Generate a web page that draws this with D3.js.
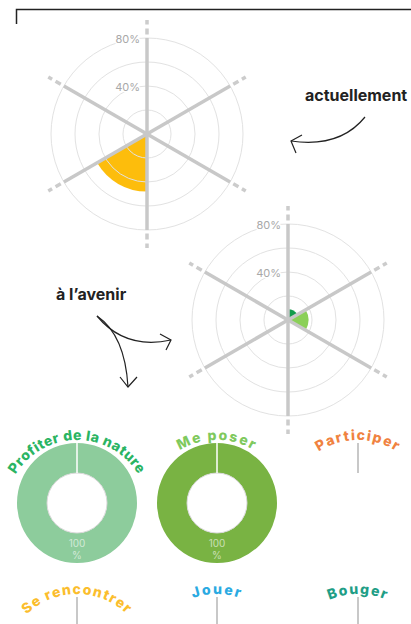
<!DOCTYPE html>
<html>
<head>
<meta charset="utf-8">
<script src="https://cdn.jsdelivr.net/npm/d3@7"></script>
<style>
  body { margin: 0; background: #fff; }
  svg { display: block; font-family: Inter, "Open Sans", sans-serif; }
</style>
</head>
<body>
<svg id="chart" width="411" height="624"></svg>
<script>
// categories, one per radar sector (clockwise from top)
var categories = ["Profiter de la nature", "Me poser", "Participer", "Se rencontrer", "Jouer", "Bouger"]
var catColors = ["#129c4c", "#8bd058", "#f2823a", "#fdbd0c", "#2aa9e0", "#1b9e88"]
var labelColors = ["#2ab463", "#7fc95d", "#f0823f", "#fbbd2c", "#2aaae2", "#1f9e86"]
var donutColors = ["#8dcc9c", "#79b343", "#f6b48a", "#fdd888", "#8fd2ee", "#8ccdc2"]

// percent values
var actuellement = [0, 0, 0, 48, 0, 0]
var avenir = [9, 17, 0, 0, 0, 0]
var donutValues = [100, 100, 0, 0, 0, 0]

var rings = [20, 40, 60, 80]
var tickLabels = [40, 80]

var svg = d3.select("#chart")

// frame at top
svg.append("path")
  .attr("d", "M16.5,24V9.5H411")
  .attr("fill", "none")
  .attr("stroke", "#222")
  .attr("stroke-width", 1.5)

var r = d3.scaleLinear().domain([0, 80]).range([0, 96])
var angle = d3.scaleLinear().domain([0, categories.length]).range([0, 2 * Math.PI])

function radar(cx, cy, values) {
  var g = svg.append("g").attr("transform", "translate(" + cx + "," + cy + ")")

  var wedge = d3.arc()
    .innerRadius(0)
    .outerRadius(function(d) { return r(d.v) })
    .startAngle(function(d) { return angle(d.i) })
    .endAngle(function(d) { return angle(d.i + 1) })

  g.selectAll("path.wedge")
    .data(values.map(function(v, i) { return {v: v, i: i} }).filter(function(d) { return d.v > 0 }))
    .enter()
    .append("path")
    .attr("class", "wedge")
    .attr("d", wedge)
    .attr("fill", function(d) { return catColors[d.i] })

  g.selectAll("circle.ring")
    .data(rings)
    .enter()
    .append("circle")
    .attr("class", "ring")
    .attr("r", function(d) { return r(d) })
    .attr("fill", "none")
    .attr("stroke", "#e2e2e2")
    .attr("stroke-width", 1)

  var axes = d3.range(categories.length)
  g.selectAll("line.axis")
    .data(axes)
    .enter()
    .append("line")
    .attr("class", "axis")
    .attr("x1", 0).attr("y1", 0)
    .attr("x2", function(d) { return r(80) * Math.sin(angle(d)) })
    .attr("y2", function(d) { return -r(80) * Math.cos(angle(d)) })
    .attr("stroke", "#c8c8c8")
    .attr("stroke-width", 3.5)

  g.selectAll("line.dash")
    .data(axes)
    .enter()
    .append("line")
    .attr("class", "dash")
    .attr("x1", function(d) { return r(83) * Math.sin(angle(d)) })
    .attr("y1", function(d) { return -r(83) * Math.cos(angle(d)) })
    .attr("x2", function(d) { return r(95) * Math.sin(angle(d)) })
    .attr("y2", function(d) { return -r(95) * Math.cos(angle(d)) })
    .attr("stroke", "#cccccc")
    .attr("stroke-width", 3.5)
    .attr("stroke-dasharray", "6,4")

  g.selectAll("text.tick")
    .data(tickLabels)
    .enter()
    .append("text")
    .attr("class", "tick")
    .attr("x", -7)
    .attr("y", function(d) { return -r(d) + 5 })
    .attr("text-anchor", "end")
    .attr("font-size", 11)
    .attr("fill", "#a8a8a8")
    .attr("stroke", "#fff")
    .attr("stroke-width", 3)
    .attr("paint-order", "stroke")
    .text(function(d) { return d + "%" })
}

radar(147, 134, actuellement)
radar(288, 320, avenir)

// annotations
function note(x, y, txt) {
  svg.append("text")
    .attr("x", x).attr("y", y)
    .attr("font-size", 16)
    .attr("font-weight", 700)
    .attr("fill", "#222")
    .text(txt)
}
note(305, 101, "actuellement")
note(56, 300, "à l\u2019avenir")

var arrows = [
  {d: "M365,117 Q340,148 291,141", head: "M302,135 L291,141 L296,153"},
  {d: "M97,316 Q125,350 171,340", head: "M160,334 L171,340 L166,350"},
  {d: "M97,316 Q125,335 128,387", head: "M120,377 L128,387 L137,377"}
]
svg.selectAll("g.arrow")
  .data(arrows)
  .enter()
  .append("g")
  .attr("class", "arrow")
  .each(function(a) {
    var el = d3.select(this)
    el.append("path").attr("d", a.d)
    el.append("path").attr("d", a.head)
  })
  .selectAll("path")
  .attr("fill", "none")
  .attr("stroke", "#222")
  .attr("stroke-width", 1.2)

// small multiples
var cols = [77, 217, 358]
var rowsY = [503, 657]
var outerR = 60, innerR = 30
var labelR = 72, labelDrop = 9
var spacing = [0.5, 1.7, 1.5, 1.3, 1.9, 1.5]

categories.forEach(function(name, i) {
  var cx = cols[i % 3], cy = rowsY[Math.floor(i / 3)]
  var g = svg.append("g").attr("transform", "translate(" + cx + "," + cy + ")")
  var v = donutValues[i]

  if (v > 0) {
    g.append("path")
      .attr("d", d3.arc().innerRadius(innerR).outerRadius(outerR).startAngle(0).endAngle(2 * Math.PI * v / 100)())
      .attr("fill", donutColors[i])
    g.append("circle")
      .attr("r", innerR)
      .attr("fill", "#fff")
      .attr("stroke", "#d8d8d8")
      .attr("stroke-width", 1)
    g.append("line")
      .attr("x1", 0).attr("x2", 0)
      .attr("y1", -outerR).attr("y2", -innerR)
      .attr("stroke", "#fff")
      .attr("stroke-width", 1.5)
    g.append("text")
      .attr("y", 44)
      .attr("text-anchor", "middle")
      .attr("font-size", 10)
      .attr("fill", "#fff")
      .attr("fill-opacity", 0.6)
      .text(v)
    g.append("text")
      .attr("y", 56)
      .attr("text-anchor", "middle")
      .attr("font-size", 10)
      .attr("fill", "#fff")
      .attr("fill-opacity", 0.6)
      .text("%")
  } else {
    g.append("line")
      .attr("x1", 0).attr("x2", 0)
      .attr("y1", -outerR).attr("y2", -innerR)
      .attr("stroke", "#c8c8c8")
      .attr("stroke-width", 2)
  }

  var p = d3.path()
  p.arc(0, labelDrop, labelR, Math.PI, 2 * Math.PI)
  g.append("path")
    .attr("id", "lab" + i)
    .attr("d", p.toString())
    .attr("fill", "none")
  g.append("text")
    .attr("font-size", 14)
    .attr("font-weight", 800)
    .attr("letter-spacing", spacing[i])
    .attr("fill", labelColors[i])
    .append("textPath")
    .attr("href", "#lab" + i)
    .attr("startOffset", "50%")
    .attr("text-anchor", "middle")
    .text(name)
})
</script>
</body>
</html>
